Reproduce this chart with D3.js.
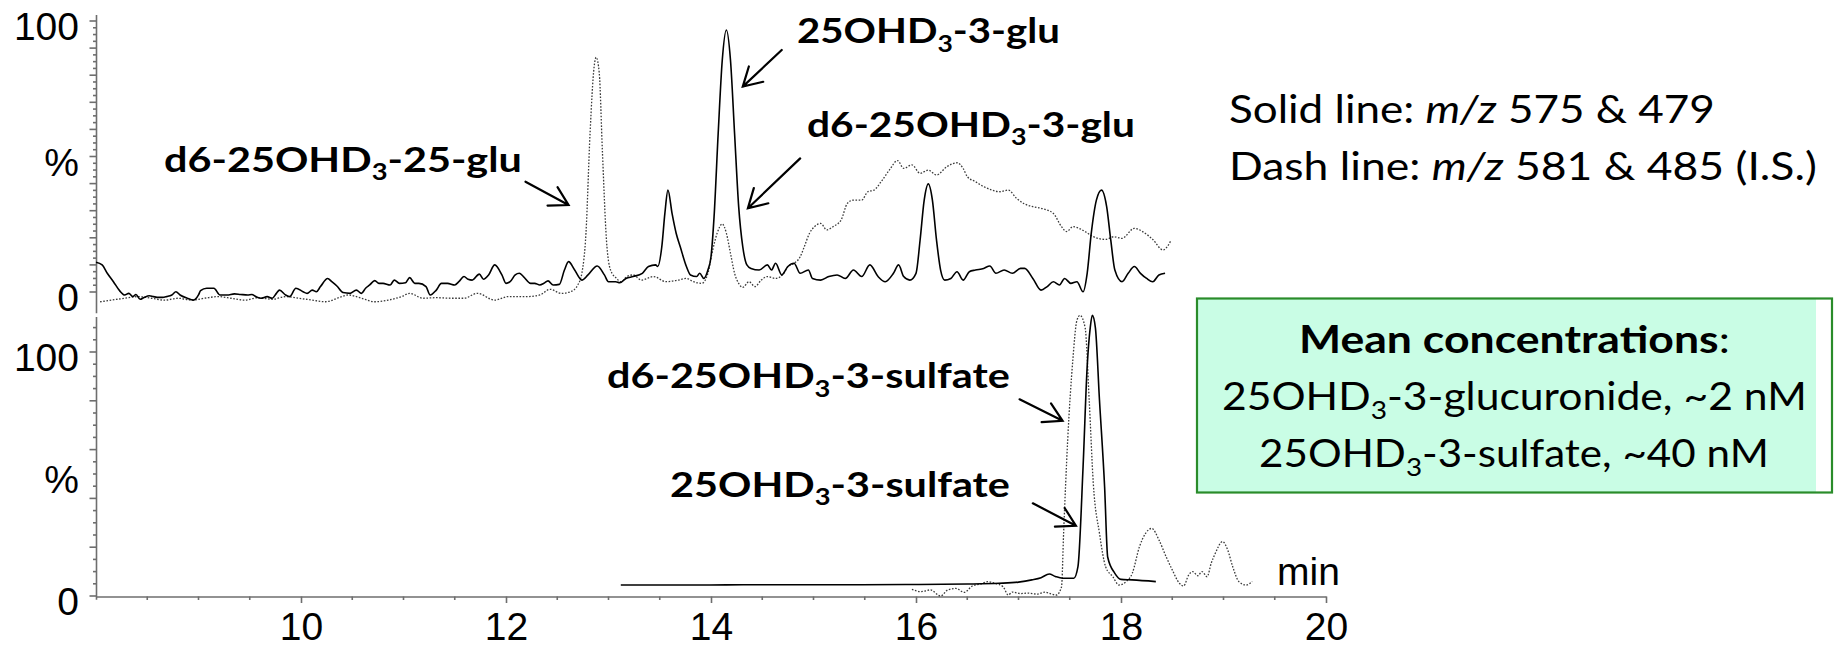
<!DOCTYPE html>
<html>
<head>
<meta charset="utf-8">
<script src="https://cdn.jsdelivr.net/npm/d3@7"></script>
<style>
  html, body { margin: 0; padding: 0; background: #fff; }
  svg { display: block; }
  .axis text { font-family: "Liberation Sans", Arial, sans-serif; font-size: 39px; fill: #000; }
  .axis line, .axis path { stroke: #6e6e6e; stroke-width: 1.6; }
  .note { font-family: Lato, "Open Sans", sans-serif; fill: #000; }
</style>
</head>
<body>
<svg id="chart"></svg>
<script>
const width = 1835, height = 649;

// [retention time (min), relative intensity (%)]
const topSolid = [
  [8.00, 11.0], [8.06, 10.0], [8.11, 6.9], [8.17, 3.8], [8.23, 0.5], [8.28, -1.1], [8.32, -0.5], [8.36, -1.7],
  [8.39, -0.9], [8.43, -2.7], [8.47, -2.0], [8.52, -1.4], [8.56, -1.7], [8.61, -2.0], [8.65, -2.0], [8.69, -1.7],
  [8.74, -1.1], [8.78, 0.1], [8.82, -1.1], [8.89, -2.3], [8.95, -3.0], [9.00, -1.1], [9.02, 0.5], [9.08, 1.4],
  [9.15, 1.4], [9.21, -1.1], [9.28, -1.1], [9.35, -0.7], [9.41, -0.9], [9.48, -1.1], [9.52, -0.9], [9.56, -1.7],
  [9.61, -2.3], [9.67, -1.7], [9.72, -2.3], [9.76, -0.5], [9.79, 0.7], [9.85, -1.1], [9.89, -1.7], [9.95, 1.4],
  [10.02, 0.1], [10.06, -0.5], [10.11, 0.7], [10.15, 0.1], [10.19, 2.0], [10.26, 5.0], [10.30, 3.8], [10.35, 2.2],
  [10.41, -0.2], [10.48, -0.5], [10.54, 0.7], [10.59, -0.5], [10.63, 1.4], [10.67, 2.6], [10.72, 4.2], [10.76, 3.2],
  [10.80, 3.2], [10.87, 2.6], [10.91, 4.4], [10.96, 3.2], [11.02, 3.4], [11.06, 5.3], [11.11, 3.2], [11.15, 3.2],
  [11.22, 2.0], [11.26, -1.1], [11.32, 0.7], [11.37, 3.2], [11.43, 3.2], [11.50, 2.6], [11.54, 3.8], [11.59, 5.7],
  [11.63, 4.7], [11.67, 4.4], [11.74, 6.6], [11.78, 4.7], [11.83, 6.3], [11.89, 10.0], [11.96, 6.3], [12.00, 3.2],
  [12.04, 3.8], [12.09, 6.3], [12.13, 6.9], [12.17, 5.7], [12.24, 3.2], [12.28, 3.2], [12.33, 2.6], [12.37, 3.2],
  [12.41, 4.1], [12.46, 2.6], [12.52, 2.8], [12.57, 8.1], [12.61, 11.2], [12.67, 8.1], [12.74, 4.4], [12.80, 6.3],
  [12.89, 9.6], [12.96, 6.3], [13.00, 3.8], [13.07, 3.8], [13.11, 3.4], [13.17, 5.0], [13.24, 5.7], [13.33, 6.9],
  [13.39, 9.4], [13.46, 10.0], [13.48, 9.4], [13.52, 16.7], [13.55, 29.0], [13.58, 37.6], [13.62, 29.0], [13.66, 21.7],
  [13.70, 16.7], [13.76, 9.4], [13.80, 6.3], [13.86, 5.7], [13.89, 6.9], [13.93, 5.0], [13.97, 8.1], [14.00, 13.0],
  [14.03, 27.8], [14.07, 58.5], [14.11, 85.6], [14.15, 96.7], [14.19, 85.6], [14.23, 58.5], [14.27, 31.5], [14.31, 16.7],
  [14.35, 10.0], [14.39, 8.7], [14.47, 8.1], [14.55, 10.0], [14.59, 8.1], [14.63, 10.6], [14.69, 6.3], [14.75, 9.4],
  [14.81, 10.6], [14.87, 6.9], [14.95, 8.1], [14.99, 5.0], [15.07, 4.4], [15.15, 5.7], [15.23, 6.3], [15.31, 5.0],
  [15.39, 8.1], [15.47, 5.7], [15.55, 10.0], [15.63, 5.7], [15.70, 3.8], [15.78, 6.9], [15.83, 10.0], [15.88, 5.7],
  [15.94, 4.4], [16.00, 6.9], [16.04, 19.2], [16.08, 33.9], [16.12, 39.9], [16.16, 33.9], [16.20, 19.2], [16.24, 8.1],
  [16.28, 4.4], [16.34, 5.0], [16.40, 7.5], [16.46, 4.4], [16.52, 7.5], [16.58, 8.1], [16.66, 8.7], [16.72, 9.6],
  [16.78, 6.9], [16.86, 8.1], [16.94, 6.9], [17.02, 8.7], [17.06, 8.7], [17.14, 5.0], [17.22, 0.7], [17.28, 2.0],
  [17.34, 3.8], [17.40, 2.6], [17.45, 5.0], [17.51, 3.2], [17.57, 3.8], [17.63, 0.1], [17.67, 6.9], [17.71, 21.7],
  [17.76, 33.9], [17.81, 37.6], [17.86, 31.5], [17.90, 19.2], [17.94, 8.1], [18.01, 3.8], [18.07, 6.9], [18.13, 9.4],
  [18.19, 6.9], [18.25, 5.0], [18.31, 3.8], [18.37, 6.3], [18.43, 6.9]
];

const topDash = [
  [8.04, -3.6], [8.15, -3.0], [8.28, -2.3], [8.41, -1.7], [8.54, -2.3], [8.67, -3.0], [8.80, -2.3], [8.93, -3.0],
  [9.06, -2.3], [9.19, -1.7], [9.32, -2.3], [9.45, -3.0], [9.58, -2.1], [9.72, -2.7], [9.85, -1.7], [9.98, -2.3],
  [10.11, -3.0], [10.24, -3.6], [10.37, -2.1], [10.46, -1.1], [10.59, -2.3], [10.72, -3.6], [10.85, -3.0], [10.98, -1.7],
  [11.06, -0.5], [11.19, -2.3], [11.32, -2.1], [11.46, -2.3], [11.59, -2.3], [11.72, -0.5], [11.89, -3.0], [12.02, -1.7],
  [12.20, -1.7], [12.33, -1.1], [12.43, 1.0], [12.54, -0.5], [12.63, 0.1], [12.70, 2.6], [12.74, 6.9], [12.78, 21.6],
  [12.82, 58.5], [12.86, 83.2], [12.88, 86.6], [12.91, 80.7], [12.94, 52.4], [12.98, 19.2], [13.02, 8.1], [13.08, 5.0],
  [13.12, 3.8], [13.18, 5.7], [13.24, 6.3], [13.32, 4.4], [13.44, 5.7], [13.56, 3.8], [13.68, 4.4], [13.76, 5.0],
  [13.83, 3.8], [13.91, 3.2], [13.97, 6.9], [14.01, 14.3], [14.06, 21.7], [14.11, 25.1], [14.15, 21.7], [14.19, 14.3],
  [14.23, 6.9], [14.27, 3.2], [14.31, 1.7], [14.37, 3.8], [14.43, 2.0], [14.49, 4.4], [14.55, 5.7], [14.63, 5.0],
  [14.71, 6.9], [14.75, 9.4], [14.81, 10.6], [14.87, 13.0], [14.91, 16.7], [14.96, 21.6], [15.01, 24.1], [15.07, 25.3],
  [15.13, 22.9], [15.19, 24.1], [15.27, 26.6], [15.33, 32.7], [15.39, 33.9], [15.47, 33.9], [15.53, 37.0], [15.59, 37.6],
  [15.66, 40.7], [15.74, 45.0], [15.82, 48.5], [15.88, 45.6], [15.96, 46.9], [16.04, 43.8], [16.12, 45.0], [16.20, 43.2],
  [16.30, 46.2], [16.40, 47.7], [16.46, 45.6], [16.50, 42.6], [16.58, 40.7], [16.66, 38.9], [16.74, 37.6], [16.82, 37.0],
  [16.90, 37.6], [16.98, 34.6], [17.06, 32.5], [17.14, 31.5], [17.22, 30.9], [17.34, 29.0], [17.42, 24.1], [17.47, 22.3],
  [17.53, 24.1], [17.65, 22.3], [17.73, 20.4], [17.85, 19.4], [17.93, 20.4], [18.01, 19.8], [18.13, 23.5], [18.21, 22.3],
  [18.31, 19.4], [18.41, 15.5], [18.45, 16.7], [18.49, 19.2]
];

const bottomSolid = [
  [13.12, 4.5], [13.80, 4.5], [14.50, 4.6], [15.20, 4.6], [15.90, 4.7], [16.50, 4.9], [16.81, 5.2], [17.00, 5.7],
  [17.13, 6.6], [17.22, 7.5], [17.30, 9.0], [17.36, 8.0], [17.43, 7.3], [17.54, 7.3], [17.58, 12.0], [17.63, 53.0],
  [17.67, 94.0], [17.70, 110.0], [17.72, 115.0], [17.75, 110.0], [17.79, 80.3], [17.84, 44.8], [17.87, 16.0],
  [17.94, 9.3], [18.00, 6.8], [18.11, 6.6], [18.34, 5.9]
];

const bottomDash = [
  [15.96, 2.7], [16.05, 1.8], [16.14, 2.5], [16.24, 0.0], [16.31, 2.5], [16.39, 3.1], [16.47, 1.5], [16.55, 4.1],
  [16.63, 4.9], [16.70, 5.9], [16.77, 5.2], [16.85, 3.8], [16.90, 0.4], [16.94, 1.6], [17.02, 1.0], [17.09, 1.2],
  [17.18, 0.8], [17.26, 1.6], [17.32, 0.8], [17.37, 0.4], [17.42, 3.8], [17.44, 25.7], [17.48, 64.0], [17.53, 96.7],
  [17.57, 113.0], [17.60, 115.0], [17.65, 110.0], [17.69, 80.0], [17.73, 46.0], [17.79, 25.7], [17.85, 12.0],
  [17.92, 7.9], [17.98, 4.5], [18.05, 5.9], [18.11, 9.3], [18.18, 20.2], [18.24, 25.7], [18.30, 27.7], [18.37, 23.0],
  [18.44, 16.1], [18.50, 10.7], [18.57, 5.2], [18.61, 4.1], [18.66, 8.6], [18.70, 10.0], [18.75, 8.3], [18.79, 10.0],
  [18.84, 7.9], [18.88, 13.4], [18.92, 17.5], [18.99, 22.3], [19.04, 19.0], [19.09, 12.0], [19.15, 5.9], [19.22, 4.5],
  [19.28, 5.9]
];

const xTicks = [10, 12, 14, 16, 18, 20];
const yTickLabels = ['0', '%', '100'];

const svg = d3.select('#chart')
  .attr('width', width)
  .attr('height', height)
  .attr('viewBox', [0, 0, width, height]);

const x = d3.scaleLinear().domain([8, 20]).range([96, 1326]);
const yTop = d3.scaleLinear().domain([0, 100]).range([292, 21]);
const yBot = d3.scaleLinear().domain([0, 100]).range([596, 352]);


// Y axes (one per trace panel)
const drawYAxis = (scale, lo, hi, minorStep, majorStep) => {
  const g = svg.append('g').attr('class', 'axis').attr('transform', 'translate(96.5,0)');
  g.append('line').attr('y1', scale(hi)).attr('y2', scale(lo));
  g.selectAll('.minor')
    .data(d3.range(0, hi, minorStep))
    .join('line')
      .attr('class', 'minor')
      .attr('x2', d => (Math.abs(d / majorStep - Math.round(d / majorStep)) < 1e-6 ? -7 : -3.5))
      .attr('y1', d => scale(d))
      .attr('y2', d => scale(d));
  g.selectAll('text')
    .data([0, 50, 100])
    .join('text')
      .attr('x', -17.5)
      .attr('y', d => scale(d))
      .attr('dy', '0.49em')
      .attr('text-anchor', 'end')
      .text((d, i) => yTickLabels[i]);
};
drawYAxis(yTop, -7.8, 102.2, 2.5, 10);
drawYAxis(yBot, -1.5, 114.3, 5, 20);


// X axis
svg.append('g')
    .attr('class', 'axis')
    .attr('transform', 'translate(0,596.5)')
    .call(d3.axisBottom(x).tickValues(xTicks).tickSize(6.5).tickPadding(9.5).tickSizeOuter(0))
  .call(g => g.selectAll('.minor')
    .data(d3.range(8.5, 20, 0.5).filter(d => d % 2 !== 0))
    .join('line')
      .attr('class', 'minor')
      .attr('x1', d => x(d))
      .attr('x2', d => x(d))
      .attr('y2', 3.5));

svg.append('text')
    .attr('class', 'axis-title')
    .attr('x', 1277)
    .attr('y', 585)
    .style('font-family', '"Liberation Sans", Arial, sans-serif')
    .style('font-size', '39px')
    .text('min');


// Traces
const traces = [
  {data: topDash, y: yTop, dash: true},
  {data: topSolid, y: yTop, dash: false},
  {data: bottomDash, y: yBot, dash: true},
  {data: bottomSolid, y: yBot, dash: false}
];
traces.forEach(tr => {
  svg.append('path')
      .datum(tr.data)
      .attr('fill', 'none')
      .attr('stroke', tr.dash ? '#3a3a3a' : '#000')
      .attr('stroke-width', tr.dash ? 1.3 : 1.6)
      .attr('stroke-dasharray', tr.dash ? '1.6,1.6' : null)
      .attr('d', d3.line().x(d => x(d[0])).y(d => tr.y(d[1])).curve(d3.curveMonotoneX));
});


// Text helper: tspans with subscripts / italics, stretched to a target width
const richText = (parent, left, baseline, targetWidth, size, parts) => {
  const t = parent.append('text').attr('class', 'note').attr('font-size', size);
  let shift = 0;
  parts.forEach(p => {
    const ts = t.append('tspan').text(p.t);
    if (p.sub) {
      ts.attr('font-size', size * 0.66).attr('dy', size * 0.24);
      shift = size * 0.24;
    } else if (shift) {
      ts.attr('dy', -shift);
      shift = 0;
    }
    if (p.i) ts.attr('font-style', 'italic');
    if (p.b) ts.attr('font-weight', 700);
  });
  const w = t.node().getBBox().width;
  t.attr('transform', `translate(${left},${baseline}) scale(${targetWidth / w},1)`);
  return t;
};

const labels = [
  {x: 164, y: 171.7, w: 358, parts: [{t: 'd6-25OHD', b: 1}, {t: '3', sub: 1, b: 1}, {t: '-25-glu', b: 1}]},
  {x: 797, y: 43.3, w: 263, parts: [{t: '25OHD', b: 1}, {t: '3', sub: 1, b: 1}, {t: '-3-glu', b: 1}]},
  {x: 807, y: 136.7, w: 328, parts: [{t: 'd6-25OHD', b: 1}, {t: '3', sub: 1, b: 1}, {t: '-3-glu', b: 1}]},
  {x: 607, y: 388.3, w: 403, parts: [{t: 'd6-25OHD', b: 1}, {t: '3', sub: 1, b: 1}, {t: '-3-sulfate', b: 1}]},
  {x: 670, y: 496.7, w: 340, parts: [{t: '25OHD', b: 1}, {t: '3', sub: 1, b: 1}, {t: '-3-sulfate', b: 1}]}
];
labels.forEach(l => richText(svg, l.x, l.y, l.w, 34.5, l.parts));

// Arrows in data coordinates: tail -> tip
const arrows = [
  {y: yTop, from: [12.19, 40.7], to: [12.61, 32.1]},
  {y: yTop, from: [14.69, 89.3], to: [14.31, 75.8]},
  {y: yTop, from: [14.87, 49.3], to: [14.36, 30.9]},
  {y: yBot, from: [17.01, 80.6], to: [17.43, 71.8]},
  {y: yBot, from: [17.14, 38.0], to: [17.56, 28.8]}
];
const arrowG = svg.append('g')
    .attr('fill', 'none')
    .attr('stroke', '#000')
    .attr('stroke-width', 2.2)
    .attr('stroke-linecap', 'round');
arrows.forEach(a => {
  const x0 = x(a.from[0]), y0 = a.y(a.from[1]);
  const x1 = x(a.to[0]), y1 = a.y(a.to[1]);
  const ang = Math.atan2(y1 - y0, x1 - x0);
  const len = 21, spread = Math.PI / 6;
  const h1 = [x1 - len * Math.cos(ang - spread), y1 - len * Math.sin(ang - spread)];
  const h2 = [x1 - len * Math.cos(ang + spread), y1 - len * Math.sin(ang + spread)];
  arrowG.append('path')
      .attr('d', `M${x0},${y0}L${x1},${y1}M${h1[0]},${h1[1]}L${x1},${y1}L${h2[0]},${h2[1]}`);
});


// Legend text
richText(svg, 1229, 123.3, 486, 39, [{t: 'Solid line: '}, {t: 'm/z', i: 1}, {t: ' 575 & 479'}]);
richText(svg, 1229, 180, 588, 39, [{t: 'Dash line: '}, {t: 'm/z', i: 1}, {t: ' 581 & 485 (I.S.)'}]);


// Concentration box
const box = svg.append('g');
box.append('rect')
    .attr('x', 1197).attr('y', 298.5)
    .attr('width', 619).attr('height', 194)
    .attr('fill', '#c9fde5');
box.append('rect')
    .attr('x', 1197).attr('y', 298.5)
    .attr('width', 635).attr('height', 194)
    .attr('fill', 'none')
    .attr('stroke', '#2a8c2a')
    .attr('stroke-width', 2.2);
richText(box, 1299, 353.3, 431, 37.5, [{t: 'Mean concentrations', b: 1}, {t: ':'}]);
richText(box, 1222, 409.5, 585, 38.5, [{t: '25OHD'}, {t: '3', sub: 1}, {t: '-3-glucuronide, ~2 nM'}]);
richText(box, 1259, 466.5, 510, 38.5, [{t: '25OHD'}, {t: '3', sub: 1}, {t: '-3-sulfate, ~40 nM'}]);
</script>
</body>
</html>
